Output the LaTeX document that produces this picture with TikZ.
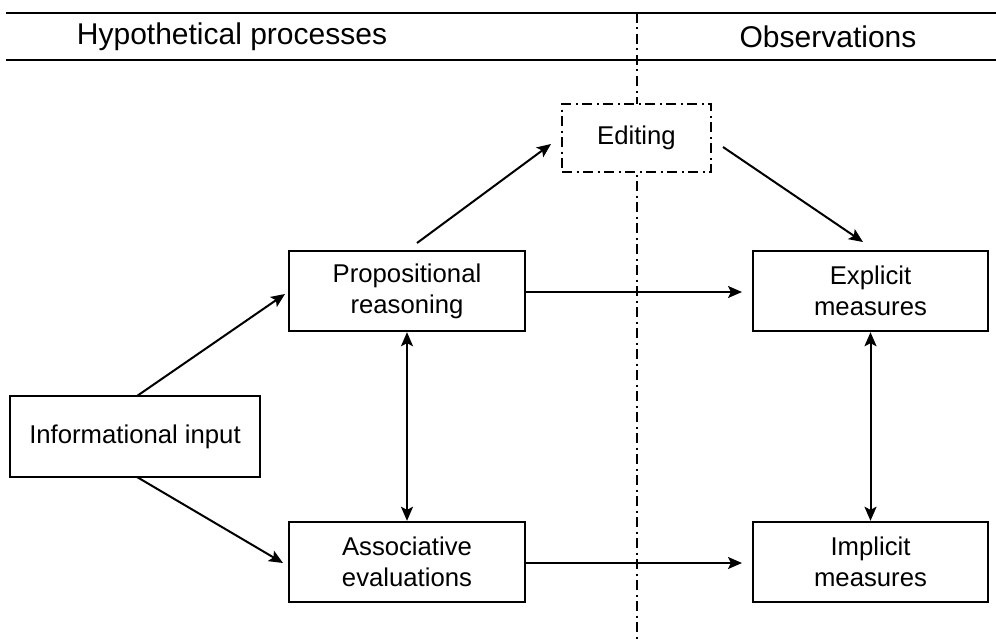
\documentclass[tikz,border=0pt]{standalone}
\usepackage{fontspec}
\setmainfont{Liberation Sans}
\usetikzlibrary{arrows.meta}
\begin{document}
\begin{tikzpicture}[x=1pt,y=-1pt,
  box/.style={draw, line width=2.4pt, rectangle, align=center, inner sep=0pt,
    font=\fontsize{25.7}{31}\selectfont},
  arr/.style={line width=2pt, -{Stealth[length=14pt,width=12pt,inset=3pt]}},
  darr/.style={line width=2pt, {Stealth[length=14pt,width=12pt,inset=3pt]}-{Stealth[length=14pt,width=12pt,inset=3pt]}},
  rule/.style={line width=2.6pt},
  hdr/.style={font=\fontsize{30}{35}\selectfont, inner sep=0pt},
  dashdot/.style={dash pattern=on 10pt off 4.5pt on 2pt off 4.5pt}
]
\useasboundingbox (0,0) rectangle (996,642);
\fill[white] (0,0) rectangle (996,642);

% header rules
\coordinate (rl1) at (6,13);
\coordinate (rr1) at (996,13);
\coordinate (rl2) at (6,60);
\coordinate (rr2) at (996,60);
\draw[rule] (rl1) -- (rr1);
\draw[rule] (rl2) -- (rr2);
\node[hdr] (hyp) at (232,37) {Hypothetical processes};
\node[hdr] (obs) at (828,37) {Observations};

% vertical divider
\coordinate (vt) at (637,13);
\coordinate (vb) at (637,642);
\draw[line width=2pt, dashdot] (vt) -- (vb);

% boxes
\node[box, fill=white, minimum width=149pt, minimum height=68pt, draw=none] (editbg) at (636.5,138) {};
\node[box, dashdot, line width=2pt, minimum width=149pt, minimum height=68pt] (edit) at (636.5,138) {Editing};
\node[box, minimum width=236pt, minimum height=80pt] (prop) at (407,291) {Propositional\\reasoning};
\node[box, minimum width=235pt, minimum height=80pt] (expl) at (870.5,291) {Explicit\\measures};
\node[box, minimum width=250pt, minimum height=81pt] (info) at (135,436.5) {Informational input};
\node[box, minimum width=236pt, minimum height=80pt] (assoc) at (407,562) {Associative\\evaluations};
\node[box, minimum width=235pt, minimum height=80pt] (impl) at (870.5,562) {Implicit\\measures};

% connector end points
\coordinate (a1s) at (137,396);
\coordinate (a1e) at (285,294);
\coordinate (a2s) at (137,477);
\coordinate (a2e) at (283,563);
\coordinate (a3s) at (417,243);
\coordinate (a3e) at (551,144);
\coordinate (a4s) at (723,147);
\coordinate (a4e) at (863,242);
\coordinate (a5e) at (742,292);
\coordinate (a6e) at (742,563);

\draw[arr] (a1s) -- (a1e);
\draw[arr] (a2s) -- (a2e);
\draw[arr] (a3s) -- (a3e);
\draw[arr] (a4s) -- (a4e);
\draw[arr] (prop.east |- a5e) -- (a5e);
\draw[arr] (assoc.east |- a6e) -- (a6e);
\draw[darr] (prop.south) -- (assoc.north);
\draw[darr] (expl.south) -- (impl.north);
\end{tikzpicture}
\end{document}
